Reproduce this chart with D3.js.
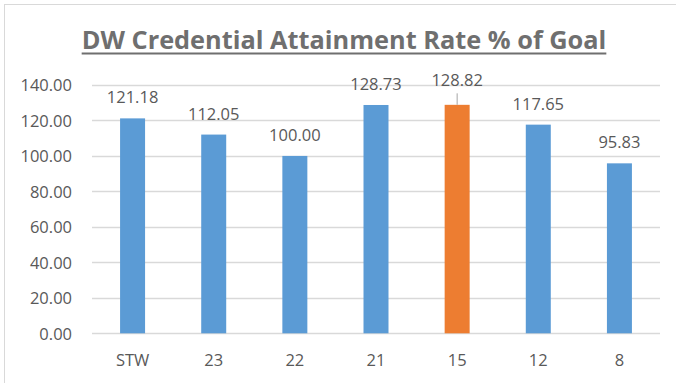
<!DOCTYPE html>
<html><head><meta charset="utf-8">
<script src="https://cdn.jsdelivr.net/npm/d3@7"></script>
<style>
html,body{margin:0;padding:0;background:#fff;overflow:hidden;}
svg{display:block;}
text{font-family:"Open Sans",sans-serif;}
</style></head>
<body>
<svg id="chart" width="676" height="383"></svg>
<script>
const categories = ["STW","23","22","21","15","12","8"];
const values = [121.18,112.05,100.00,128.73,128.82,117.65,95.83];
const highlight = ["15"];
const yTicks = [0,20,40,60,80,100,120,140];
const title = "DW Credential Attainment Rate % of Goal";

const svg = d3.select("#chart");
const W = 676, H = 383;
const plot = {left: 92, right: 660, top: 85, bottom: 333.3};

// outer chart border
svg.append("rect").attr("x",4.5).attr("y",4.5).attr("width",720).attr("height",420)
  .attr("fill","#fff").attr("stroke","#d9d9d9").attr("stroke-width",1);

const x = d3.scaleBand().domain(categories).range([plot.left, plot.right])
  .paddingInner(0.692).paddingOuter(0.346);
const y = d3.scaleLinear().domain([0,140]).range([plot.bottom, plot.top]);

// gridlines
svg.append("g").selectAll("line").data(yTicks).join("line")
  .attr("x1",plot.left).attr("x2",plot.right)
  .attr("y1",d=>Math.round(y(d))+0.5).attr("y2",d=>Math.round(y(d))+0.5)
  .attr("stroke","#d9d9d9").attr("stroke-width",1.3);

// y axis labels
const yAxis = d3.axisLeft(y).tickValues(yTicks).tickFormat(d3.format(".2f")).tickSize(0).tickPadding(0);
const ya = svg.append("g").attr("transform",`translate(72,0)`).call(yAxis);
ya.select(".domain").remove();
ya.selectAll("text").attr("fill","#595959").style("font-size","16.5px")
  .style("font-family","'Open Sans',sans-serif").attr("dy","0.35em");

// x axis labels
const xAxis = d3.axisBottom(x).tickSize(0).tickPadding(0);
const xa = svg.append("g").attr("transform",`translate(0,366)`).call(xAxis);
xa.select(".domain").remove();
xa.selectAll("text").attr("fill","#595959").style("font-size","16.5px")
  .style("font-family","'Open Sans',sans-serif").attr("dy","0");

// bars
svg.append("g").selectAll("rect").data(values).join("rect")
  .attr("x",(d,i)=>x(categories[i]))
  .attr("width",x.bandwidth())
  .attr("y",d=>y(d))
  .attr("height",d=>y(0)-y(d))
  .attr("fill",(d,i)=>highlight.includes(categories[i]) ? "#ed7d31" : "#5b9bd5");

// data labels
const lbl = svg.append("g");
values.forEach((v,i)=>{
  const cx = x(categories[i]) + x.bandwidth()/2;
  const isHi = highlight.includes(categories[i]);
  const base = y(v) - 15 - (isHi ? 3.5 : 0);
  if (isHi) {
    lbl.append("line").attr("x1",cx).attr("x2",cx)
      .attr("y1",base+7).attr("y2",y(v)).attr("stroke","#a6a6a6").attr("stroke-width",1);
  }
  lbl.append("text").attr("x",cx).attr("y",base).attr("text-anchor","middle")
    .attr("fill","#595959").style("font-size","16.5px").text(d3.format(".2f")(v));
});

// title
const t = svg.append("text").attr("x",344).attr("y",48.5).attr("text-anchor","middle")
  .attr("fill","#6f6f6f").style("font-weight","700").style("font-size","26px").text(title);
const tw = t.node().getComputedTextLength();
const fs = 26 * 525 / tw;
t.style("font-size", fs + "px");
const bb = t.node().getBBox();
svg.append("line").attr("x1",bb.x).attr("x2",bb.x+bb.width)
  .attr("y1",53.5).attr("y2",53.5).attr("stroke","#6f6f6f").attr("stroke-width",2);
</script>
</body></html>
